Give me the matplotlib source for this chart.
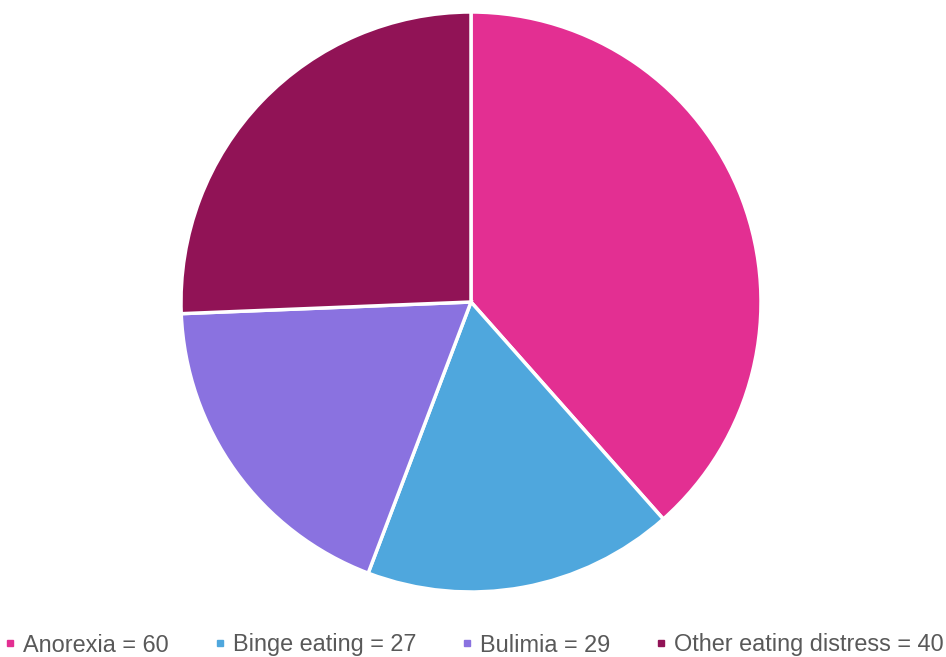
import matplotlib
matplotlib.use("Agg")
import matplotlib.pyplot as plt
from matplotlib.lines import Line2D

labels = ["Anorexia", "Binge eating", "Bulimia", "Other eating distress"]
values = [60, 27, 29, 40]
colors = ["#E32F92", "#4FA7DD", "#8A72E0", "#911356"]

plt.rcParams['font.family'] = ['Liberation Sans', 'DejaVu Sans']

fig = plt.figure(figsize=(9.46, 6.57), dpi=100)
ax = fig.add_axes([180/946, 1-592/657, 582/946, 580/657])
ax.pie(values, colors=colors, startangle=90, counterclock=False, radius=1,
       wedgeprops=dict(edgecolor="white", linewidth=2.5))
ax.set_xlim(-1, 1)
ax.set_ylim(-1, 1)
ax.set_aspect("equal")
ax.axis("off")

handles = [Line2D([], [], marker="s", linestyle="none", markersize=5,
                  markerfacecolor=c, markeredgecolor=c) for c in colors]
leg_labels = [f"{l} = {v}" for l, v in zip(labels, values)]
fig.legend(handles, leg_labels, loc="center", bbox_to_anchor=(474/946, 1-645/657),
           ncol=4, frameon=False, fontsize=16.9, handlelength=0.5, handletextpad=0.3,
           columnspacing=1.92, labelcolor="#595959")

fig.savefig("out.png", dpi=100)
